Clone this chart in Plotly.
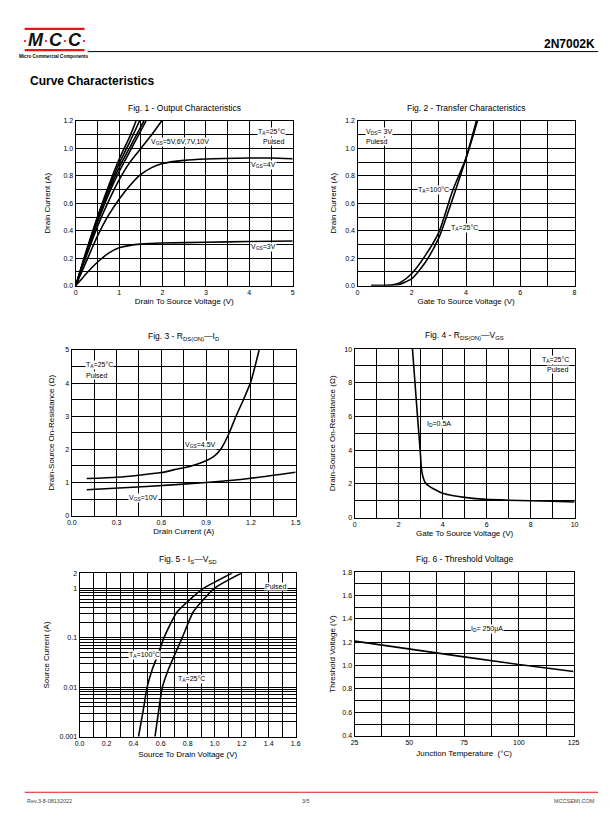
import plotly.graph_objects as go

W, H = 612, 825
FONT = "Liberation Sans, Arial, sans-serif"

# ---------------- data ----------------
# Fig 1 - Output characteristics (VDS [V], ID [A])
f1_vgs3_v = [0, 0.1, 0.25, 0.5, 0.75, 1.0, 1.25, 1.5, 2, 3, 4, 5]
f1_vgs3_i = [0, 0.035, 0.09, 0.17, 0.235, 0.275, 0.293, 0.302, 0.31, 0.316, 0.321, 0.325]
f1_vgs4_v = [0, 0.25, 0.5, 0.75, 1.0, 1.25, 1.5, 1.75, 2, 2.5, 3, 4, 4.5, 5]
f1_vgs4_i = [0, 0.18, 0.36, 0.51, 0.63, 0.73, 0.81, 0.86, 0.89, 0.913, 0.923, 0.93, 0.93, 0.925]
f1_vgs5_v = [0, 0.25, 0.5, 0.75, 1.0, 1.25, 1.5, 1.75, 1.98]
f1_vgs5_i = [0, 0.22, 0.43, 0.61, 0.77, 0.9, 1.0, 1.1, 1.2]
f1_vgs6_v = [0, 0.25, 0.5, 0.75, 1.0, 1.25, 1.62]
f1_vgs6_i = [0, 0.24, 0.46, 0.66, 0.83, 0.98, 1.2]
f1_vgs7_v = [0, 0.25, 0.5, 0.75, 1.0, 1.25, 1.57]
f1_vgs7_i = [0, 0.245, 0.475, 0.68, 0.86, 1.01, 1.2]
f1_vgs8_v = [0, 0.25, 0.5, 0.75, 1.0, 1.25, 1.47]
f1_vgs8_i = [0, 0.25, 0.49, 0.7, 0.89, 1.05, 1.2]
f1_vgs10_v = [0, 0.25, 0.5, 0.75, 1.0, 1.25, 1.39]
f1_vgs10_i = [0, 0.26, 0.5, 0.72, 0.92, 1.09, 1.2]

# Fig 2 - Transfer characteristics (VGS [V], ID [A])
f2_t100_v = [0.5, 1.0, 1.3, 1.6, 2.0, 2.5, 3.0, 3.5, 4.0, 4.42]
f2_t100_i = [0, 0.001, 0.006, 0.025, 0.088, 0.22, 0.39, 0.69, 0.93, 1.2]
f2_t25_v = [0.5, 1.2, 1.5, 2.0, 2.5, 3.0, 3.5, 4.0, 4.38]
f2_t25_i = [0, 0, 0.006, 0.05, 0.17, 0.35, 0.63, 0.93, 1.2]

# Fig 3 - RDS(ON) vs ID (ID [A], R [ohm])
f3_vgs45_i = [0.1, 0.3, 0.45, 0.6, 0.7, 0.8, 0.9, 0.95, 1.0, 1.05, 1.1, 1.15, 1.2, 1.255]
f3_vgs45_r = [1.12, 1.16, 1.22, 1.3, 1.4, 1.5, 1.66, 1.78, 2.02, 2.45, 3.0, 3.5, 4.05, 5.0]
f3_vgs10_i = [0.1, 0.5, 0.9, 1.2, 1.5]
f3_vgs10_r = [0.78, 0.88, 1.0, 1.13, 1.31]

# Fig 4 - RDS(ON) vs VGS (VGS [V], R [ohm])
f4_vgs = [2.63, 2.86, 2.98, 3.04, 3.1, 3.2, 3.4, 3.6, 4.0, 4.5, 5, 6, 7, 8, 9, 10]
f4_r = [10, 6, 4, 2.9, 2.45, 2.1, 1.85, 1.7, 1.45, 1.3, 1.2, 1.08, 1.03, 1.0, 0.97, 0.93]

# Fig 5 - IS vs VSD (VSD [V], IS [A])
f5_t100_v = [0.436, 0.47, 0.50, 0.54, 0.58, 0.625, 0.72, 0.82, 0.92, 1.03, 1.13]
f5_t100_i = [0.001, 0.0033, 0.01, 0.0238, 0.045, 0.1, 0.325, 0.6, 1.0, 1.45, 2.0]
f5_t25_v = [0.558, 0.585, 0.613, 0.66, 0.76, 0.84, 0.92, 1.0, 1.1, 1.2]
f5_t25_i = [0.001, 0.0033, 0.01, 0.0238, 0.1, 0.325, 0.6, 1.0, 1.45, 2.0]

# Fig 6 - Threshold voltage (TJ [C], VTH [V])
f6_tj = [25, 50, 75, 100, 125]
f6_vth = [1.21, 1.14, 1.075, 1.01, 0.95]

# log tick labels for fig 5
f5_tickvals = [0.001, 0.01, 0.1, 1, 2]
f5_ticktext = ["0.001", "0.01", "0.1", "1", "2"]

# ---------------- layout helpers ----------------
def px(x):
    return x / W

def py(y):
    return 1 - y / H

panels = {
    1: (72, 293, 118, 284),
    2: (359, 580, 118, 284),
    3: (68, 296, 349, 516),
    4: (356, 580, 348, 518),
    5: (76, 296, 574, 739),
    6: (356, 579, 573, 738),
}

fig = go.Figure()
LINE = dict(color="black", width=1.6)

def add(n, x, y, shape="spline"):
    fig.add_trace(go.Scatter(x=x, y=y, mode="lines", line=dict(LINE, shape=shape, smoothing=0.6),
                             xaxis=f"x{n}", yaxis=f"y{n}", showlegend=False, hoverinfo="skip"))

for xs, ys in [(f1_vgs3_v, f1_vgs3_i), (f1_vgs4_v, f1_vgs4_i), (f1_vgs5_v, f1_vgs5_i),
               (f1_vgs6_v, f1_vgs6_i), (f1_vgs7_v, f1_vgs7_i), (f1_vgs8_v, f1_vgs8_i),
               (f1_vgs10_v, f1_vgs10_i)]:
    add(1, xs, ys)
add(2, f2_t100_v, f2_t100_i)
add(2, f2_t25_v, f2_t25_i)
add(3, f3_vgs45_i, f3_vgs45_r)
add(3, f3_vgs10_i, f3_vgs10_r)
add(4, f4_vgs, f4_r)
add(5, f5_t100_v, f5_t100_i)
add(5, f5_t25_v, f5_t25_i)
add(6, f6_tj, f6_vth, shape="linear")

GRID = dict(showgrid=True, gridcolor="black", gridwidth=0.8, zeroline=False,
            showline=True, linecolor="black", linewidth=1.3, mirror=True, ticks="",
            tickfont=dict(family=FONT, size=7, color="black"), fixedrange=True)
TFONT = dict(family=FONT, size=8, color="black")

def axes(n, xr, yr, xkw, ykw, xtitle, ytitle, xstand=3, ystand=4):
    x0, x1, y0, y1 = panels[n]
    s = "" if n == 1 else str(n)
    fig.layout[f"xaxis{s}"] = dict(GRID, domain=[px(x0), px(x1)], range=xr, anchor=f"y{n}",
                                   title=dict(text=xtitle, font=TFONT, standoff=xstand), **xkw)
    fig.layout[f"yaxis{s}"] = dict(GRID, domain=[py(y1), py(y0)], range=yr, anchor=f"x{n}",
                                   title=dict(text=ytitle, font=TFONT, standoff=ystand), **ykw)

def mgrid(d, t0=0):
    return dict(showgrid=True, gridcolor="black", gridwidth=0.8, dtick=d, tick0=t0, ticks="")

axes(1, [0, 5], [0, 1.2],
     dict(dtick=1, tick0=0, minor=mgrid(0.5)),
     dict(dtick=0.2, tick0=0, tickformat=".1f", minor=mgrid(0.1)),
     "Drain To Source Voltage (V)", "Drain Current (A)", ystand=11)
axes(2, [0, 8], [0, 1.2],
     dict(dtick=2, tick0=0, minor=mgrid(1)),
     dict(dtick=0.2, tick0=0, tickformat=".1f", minor=mgrid(0.1)),
     "Gate To Source Voltage (V)", "Drain Current (A)", ystand=7)
axes(3, [0, 1.5], [0, 5],
     dict(dtick=0.3, tick0=0, tickformat=".1f", minor=mgrid(0.15)),
     dict(dtick=1, tick0=0, minor=mgrid(0.5)),
     "Drain Current (A)", "Drain-Source On-Resistance (Ω)", ystand=9)
axes(4, [0, 10], [0, 10],
     dict(dtick=2, tick0=0, minor=mgrid(1)),
     dict(dtick=2, tick0=0, minor=mgrid(1)),
     "Gate To Source Voltage (V)", "Drain-Source On-Resistance (Ω)", ystand=7)
axes(5, [0, 1.6], [-3, 0.30103],
     dict(dtick=0.2, tick0=0, tickformat=".1f", minor=mgrid(0.1)),
     dict(type="log", tickmode="array", tickvals=f5_tickvals, ticktext=f5_ticktext,
          minor=dict(showgrid=True, gridcolor="black", gridwidth=0.8, dtick="D1", ticks="")),
     "Source To Drain Voltage (V)", "Source Current (A)", xstand=5, ystand=8)
axes(6, [25, 125], [0.4, 1.8],
     dict(dtick=25, tick0=25, minor=mgrid(12.5, 25)),
     dict(dtick=0.2, tick0=0.4, tickformat=".1f", minor=mgrid(0.1, 0.4)),
     "Junction Temperature  (°C)", "Threshold Voltage (V)", xstand=5, ystand=5)

ann = []
# figure titles
titles = {
    1: "Fig. 1 - Output Characteristics",
    2: "Fig. 2 - Transfer Characteristics",
    3: "Fig. 3 - R<sub>DS(ON)</sub>—I<sub>D</sub>",
    4: "Fig. 4 - R<sub>DS(ON)</sub>—V<sub>GS</sub>",
    5: "Fig. 5 - I<sub>S</sub>—V<sub>SD</sub>",
    6: "Fig. 6 - Threshold Voltage",
}
for n, t in titles.items():
    x0, x1, y0, y1 = panels[n]
    ann.append(dict(xref="paper", yref="paper", x=px((x0 + x1) / 2), y=py(y0 - 6),
                    text=t, showarrow=False, xanchor="center", yanchor="bottom",
                    font=dict(family=FONT, size=8.5, color="black")))

LF = dict(family=FONT, size=7, color="black")

def lab(n, x, y, text, xa="left"):
    ann.append(dict(xref=f"x{n}", yref=f"y{n}", x=x, y=y, text=text, showarrow=False,
                    xanchor=xa, yanchor="middle", bgcolor="white", borderpad=0, font=LF))

lab(1, 4.85, 1.12, "T<sub>A</sub>=25°C", "right")
lab(1, 4.85, 1.05, "Pulsed", "right")
lab(1, 1.72, 1.045, "V<sub>GS</sub>=5V,6V,7V,10V")
lab(1, 4.02, 0.88, "V<sub>GS</sub>=4V")
lab(1, 4.02, 0.28, "V<sub>GS</sub>=3V")

lab(2, 0.28, 1.12, "V<sub>DS</sub>= 3V")
lab(2, 0.28, 1.05, "Pulesd")
lab(2, 2.2, 0.70, "T<sub>A</sub>=100°C")
lab(2, 3.42, 0.42, "T<sub>A</sub>=25°C")

lab(3, 0.09, 4.54, "T<sub>A</sub>=25°C")
lab(3, 0.09, 4.24, "Pulsed")
lab(3, 0.75, 2.13, "V<sub>GS</sub>=4.5V")
lab(3, 0.38, 0.54, "V<sub>GS</sub>=10V")

lab(4, 9.8, 9.37, "T<sub>A</sub>=25°C", "right")
lab(4, 9.8, 8.78, "Pulsed", "right")
lab(4, 3.23, 5.55, "I<sub>D</sub>=0.5A")

lab(5, 1.365, 0.03, "Pulsed")
lab(5, 0.36, -1.35, "T<sub>A</sub>=100°C")
lab(5, 0.72, -1.84, "T<sub>A</sub>=25°C")

lab(6, 77.5, 1.31, "I<sub>D</sub>= 250µA")

# header / footer
RED = "#e3141b"
ann += [
    dict(xref="paper", yref="paper", x=px(50), y=py(36), xanchor="center", yanchor="middle",
         showarrow=False,
         text=(f"<span style='color:{RED}'>·</span><b><i>M</i></b><span style='color:{RED}'>·</span>"
               f"<b><i>C</i></b><span style='color:{RED}'>·</span><b><i>C</i></b>"
               f"<span style='color:{RED}'>·</span>"),
         font=dict(family=FONT, size=18, color="#111111")),
    dict(xref="paper", yref="paper", x=px(50), y=py(52.5), xanchor="center", yanchor="middle",
         showarrow=False, text="<b>Micro Commercial Components</b>",
         font=dict(family=FONT, size=4.6, color="black")),
    dict(xref="paper", yref="paper", x=px(81), y=py(48.5), xanchor="left", yanchor="middle",
         showarrow=False, text="®", font=dict(family=FONT, size=3.5, color="black")),
    dict(xref="paper", yref="paper", x=px(603), y=py(40), xanchor="right", yanchor="middle",
         showarrow=False, text="<b>2N7002K</b>", font=dict(family=FONT, size=12, color="black")),
    dict(xref="paper", yref="paper", x=px(23), y=py(78), xanchor="left", yanchor="middle",
         showarrow=False, text="<b>Curve Characteristics</b>",
         font=dict(family=FONT, size=12, color="black")),
    dict(xref="paper", yref="paper", x=px(20), y=py(804), xanchor="left", yanchor="middle",
         showarrow=False, text="Rev.3-8-08132022", font=dict(family=FONT, size=5.5, color="#444")),
    dict(xref="paper", yref="paper", x=px(306), y=py(804), xanchor="center", yanchor="middle",
         showarrow=False, text="3/5", font=dict(family=FONT, size=5.5, color="#444")),
    dict(xref="paper", yref="paper", x=px(603), y=py(804), xanchor="right", yanchor="middle",
         showarrow=False, text="MCCSEMI.COM", font=dict(family=FONT, size=5.5, color="#444")),
]

shapes = [
    dict(type="line", xref="paper", yref="paper", x0=px(20), x1=px(81), y0=py(25), y1=py(25),
         line=dict(color=RED, width=2.2)),
    dict(type="line", xref="paper", yref="paper", x0=px(20), x1=px(81), y0=py(46.5), y1=py(46.5),
         line=dict(color=RED, width=2.2)),
    dict(type="line", xref="paper", yref="paper", x0=px(85), x1=px(604), y0=py(48), y1=py(48),
         line=dict(color="black", width=1)),
    dict(type="line", xref="paper", yref="paper", x0=px(20), x1=px(604), y0=py(795), y1=py(795),
         line=dict(color=RED, width=1)),
]

fig.update_layout(width=W, height=H, margin=dict(l=0, r=0, t=0, b=0), autosize=False,
                  paper_bgcolor="white", plot_bgcolor="white", showlegend=False,
                  annotations=ann, shapes=shapes, font=dict(family=FONT, color="black"))

fig.write_html("out.html", config={"displayModeBar": False},
               post_script="document.body.style.margin='0';document.body.style.padding='0';document.body.style.overflow='hidden';")
